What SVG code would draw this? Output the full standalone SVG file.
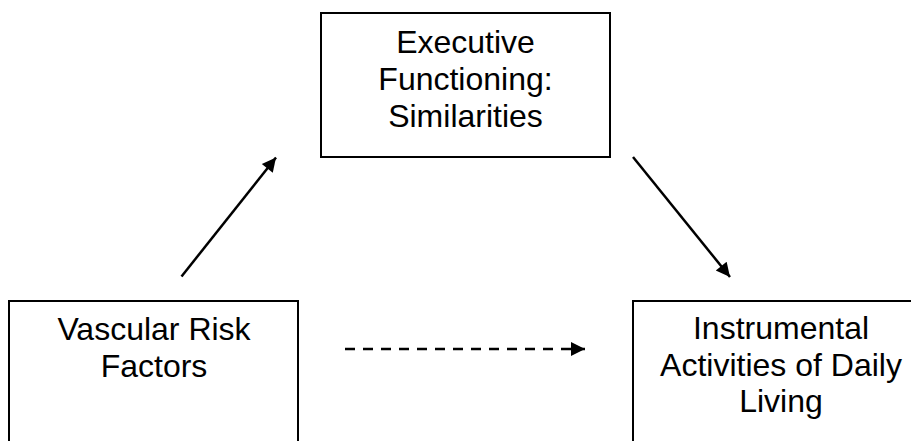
<svg xmlns="http://www.w3.org/2000/svg" width="911" height="441" viewBox="0 0 911 441">
<defs>
<style>
.box{fill:#fff;stroke:#000;stroke-width:2}
.lbl{font-family:"Liberation Sans",Arial,sans-serif;font-size:32px;fill:#000;text-anchor:middle}
.conn{stroke:#000;stroke-width:2.5;fill:none}
</style>
<marker id="ah" viewBox="0 0 10 10" refX="10" refY="5" markerUnits="userSpaceOnUse" markerWidth="16" markerHeight="14" orient="auto">
<path d="M0,0 L10,5 L0,10 Z" fill="#000"/>
</marker>
</defs>
<rect width="911" height="441" fill="#fff"/>
<g id="node-executive">
<rect class="box" x="321" y="13" width="289" height="144"/>
<text class="lbl" x="465.5" y="53">Executive</text>
<text class="lbl" x="465.5" y="90">Functioning:</text>
<text class="lbl" x="465.5" y="127">Similarities</text>
</g>
<g id="node-vascular">
<rect class="box" x="9" y="301" width="289" height="160"/>
<text class="lbl" x="154" y="340">Vascular Risk</text>
<text class="lbl" x="154" y="377">Factors</text>
</g>
<g id="node-iadl">
<rect class="box" x="633" y="301" width="296" height="160"/>
<text class="lbl" x="781" y="339">Instrumental</text>
<text class="lbl" x="781" y="376">Activities of Daily</text>
<text class="lbl" x="781" y="412">Living</text>
</g>
<g id="connectors">
<line class="conn" x1="181.5" y1="276.5" x2="276" y2="157.5" marker-end="url(#ah)"/>
<line class="conn" x1="633" y1="157" x2="730" y2="277" marker-end="url(#ah)"/>
<line class="conn" x1="345" y1="349" x2="585" y2="349" stroke-dasharray="10 8" marker-end="url(#ah)"/>
</g>
</svg>
